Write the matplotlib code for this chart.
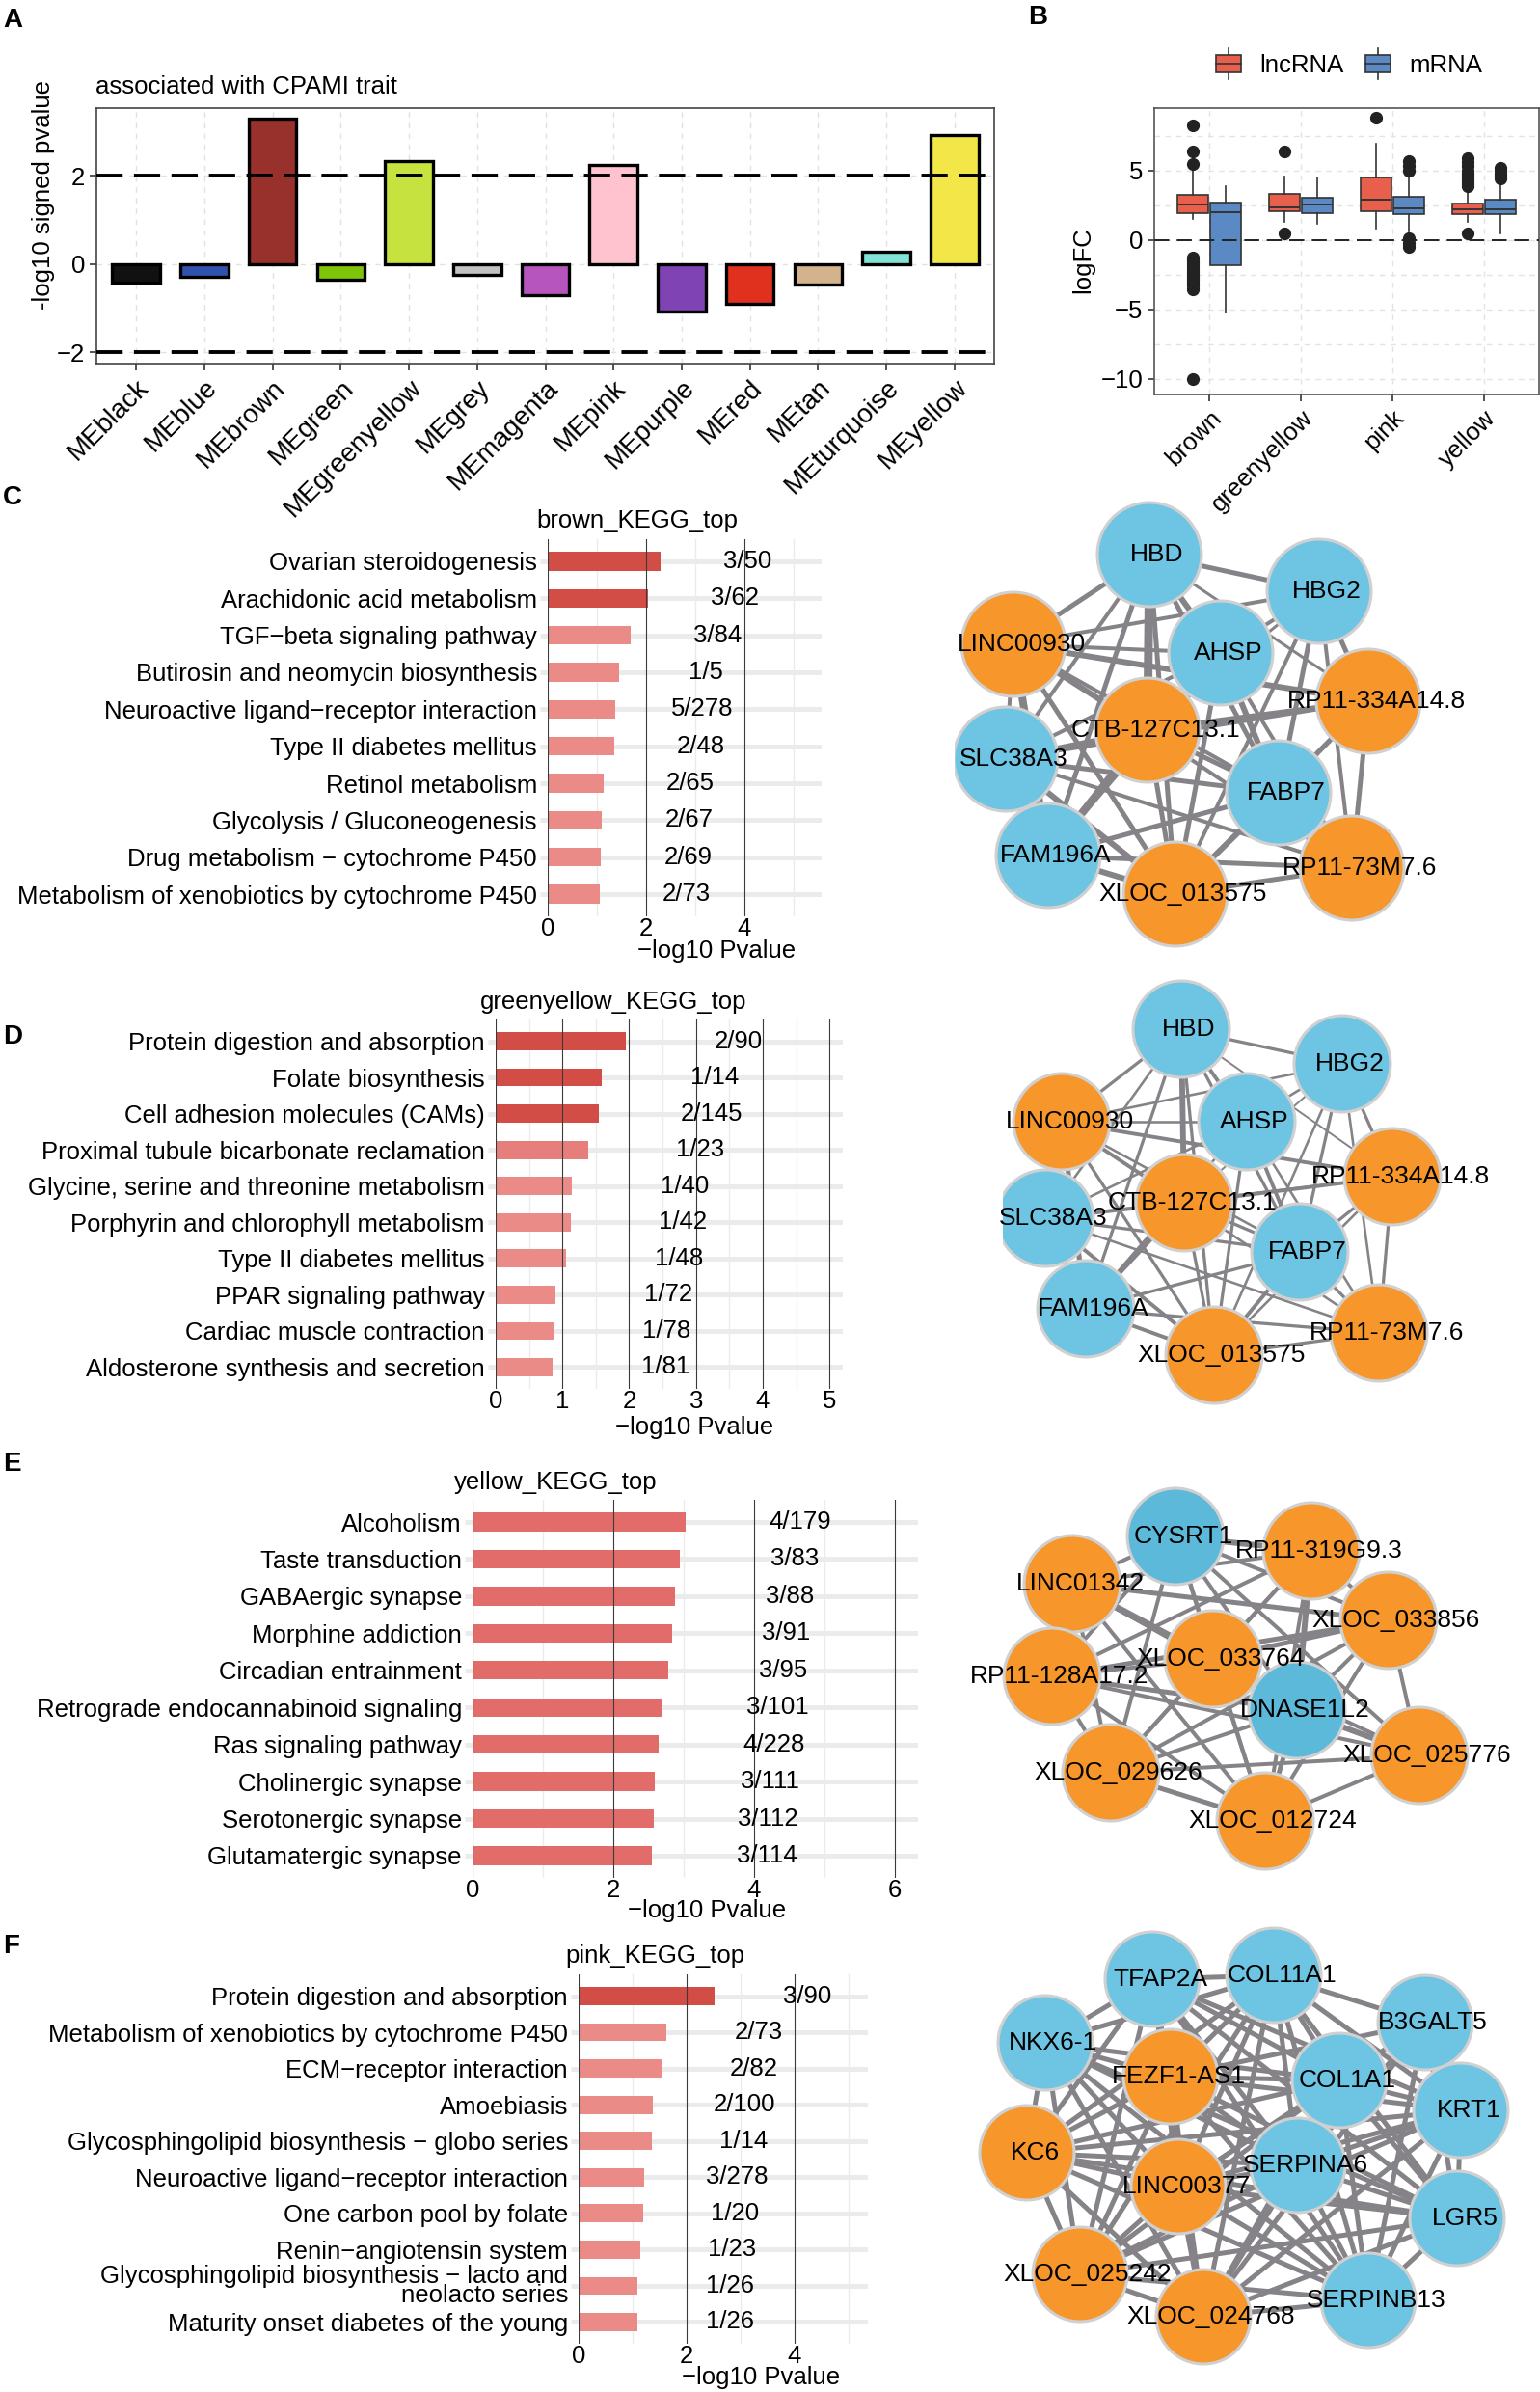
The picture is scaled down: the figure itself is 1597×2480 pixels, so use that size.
import numpy as np
import matplotlib
matplotlib.use("Agg")
import matplotlib.pyplot as plt
from matplotlib.patches import Circle, Rectangle, Patch
from matplotlib.lines import Line2D
from matplotlib.legend_handler import HandlerBase

plt.rcParams['font.family'] = ['Liberation Sans', 'DejaVu Sans']

W, H = 1597, 2480
PX = 100 / 72.0   # pixels per point at dpi 100
FS = 18.5

# ---------------- panel A: module-trait association ----------------
me_modules = ["MEblack", "MEblue", "MEbrown", "MEgreen", "MEgreenyellow", "MEgrey",
              "MEmagenta", "MEpink", "MEpurple", "MEred", "MEtan", "MEturquoise", "MEyellow"]
me_signed_p = [-0.43, -0.30, 3.29, -0.36, 2.32, -0.26, -0.71, 2.25, -1.08, -0.91, -0.46, 0.27, 2.92]
me_colors = ["#111111", "#3152AC", "#98302B", "#7EC50A", "#C6E23F", "#C2C2C2",
             "#B655BE", "#FFC2CF", "#8043B3", "#E0311F", "#D2B38C", "#83E1D6", "#F2E648"]

# ---------------- panel B: logFC boxplots ----------------
box_groups = ["brown", "greenyellow", "pink", "yellow"]
# whisker low, Q1, median, Q3, whisker high
lnc_stats = [[1.52, 1.89, 2.54, 3.21, 5.00],
             [1.29, 2.06, 2.33, 3.28, 4.57],
             [0.83, 2.06, 2.89, 4.46, 6.90],
             [1.29, 1.82, 2.17, 2.63, 3.60]]
mrna_stats = [[-5.22, -1.82, 2.01, 2.70, 3.90],
              [1.13, 1.92, 2.52, 3.03, 4.48],
              [0.60, 1.82, 2.24, 3.09, 4.64],
              [0.44, 1.87, 2.22, 2.89, 4.06]]
lnc_outliers = [[8.22, 6.37, 5.45, -1.3, -1.5, -1.7, -1.9, -2.1, -2.3, -2.5, -2.7,
                 -2.9, -3.1, -3.3, -3.55, -10.0],
                [6.37, 0.44],
                [8.78],
                [5.9, 5.6, 5.3, 5.0, 4.8, 4.6, 4.4, 4.2, 4.0, 3.85, 0.44]]
mrna_outliers = [[], [], [5.68, 5.35, 5.0, 0.14, -0.2, -0.5],
                 [5.2, 5.0, 4.8, 4.6, 4.4]]

# ---------------- panels C-F: KEGG enrichment ----------------
brown_terms = ["Ovarian steroidogenesis", "Arachidonic acid metabolism",
               "TGF\u2212beta signaling pathway", "Butirosin and neomycin biosynthesis",
               "Neuroactive ligand\u2212receptor interaction", "Type II diabetes mellitus",
               "Retinol metabolism", "Glycolysis / Gluconeogenesis",
               "Drug metabolism \u2212 cytochrome P450",
               "Metabolism of xenobiotics by cytochrome P450"]
brown_logp = [2.30, 2.04, 1.68, 1.45, 1.38, 1.35, 1.13, 1.10, 1.08, 1.05]
brown_ratio = ["3/50", "3/62", "3/84", "1/5", "5/278", "2/48", "2/65", "2/67", "2/69", "2/73"]

gy_terms = ["Protein digestion and absorption", "Folate biosynthesis",
            "Cell adhesion molecules (CAMs)", "Proximal tubule bicarbonate reclamation",
            "Glycine, serine and threonine metabolism", "Porphyrin and chlorophyll metabolism",
            "Type II diabetes mellitus", "PPAR signaling pathway",
            "Cardiac muscle contraction", "Aldosterone synthesis and secretion"]
gy_logp = [1.95, 1.59, 1.54, 1.38, 1.14, 1.12, 1.06, 0.89, 0.87, 0.85]
gy_ratio = ["2/90", "1/14", "2/145", "1/23", "1/40", "1/42", "1/48", "1/72", "1/78", "1/81"]

yellow_terms = ["Alcoholism", "Taste transduction", "GABAergic synapse", "Morphine addiction",
                "Circadian entrainment", "Retrograde endocannabinoid signaling",
                "Ras signaling pathway", "Cholinergic synapse", "Serotonergic synapse",
                "Glutamatergic synapse"]
yellow_logp = [3.03, 2.95, 2.88, 2.83, 2.78, 2.70, 2.65, 2.59, 2.57, 2.55]
yellow_ratio = ["4/179", "3/83", "3/88", "3/91", "3/95", "3/101", "4/228", "3/111", "3/112", "3/114"]

pink_terms = ["Protein digestion and absorption",
              "Metabolism of xenobiotics by cytochrome P450",
              "ECM\u2212receptor interaction", "Amoebiasis",
              "Glycosphingolipid biosynthesis \u2212 globo series",
              "Neuroactive ligand\u2212receptor interaction", "One carbon pool by folate",
              "Renin\u2212angiotensin system",
              "Glycosphingolipid biosynthesis \u2212 lacto and\nneolacto series",
              "Maturity onset diabetes of the young"]
pink_logp = [2.52, 1.63, 1.54, 1.37, 1.35, 1.22, 1.19, 1.14, 1.09, 1.09]
pink_ratio = ["3/90", "2/73", "2/82", "2/100", "1/14", "3/278", "1/20", "1/23", "1/26", "1/26"]

DARK, MID, LIGHT = "#D24D46", "#E16C69", "#EA8B88"
brown_cols = [DARK, DARK] + [LIGHT] * 8
gy_cols = [DARK, DARK, DARK, "#E67E7B"] + [LIGHT] * 6
yellow_cols = [MID] * 10
pink_cols = [DARK] + [LIGHT] * 9

# ---------------- networks (layout coordinates in px inside each panel box) ----------------
brown_nodes = ["HBD", "HBG2", "LINC00930", "AHSP", "RP11-334A14.8", "CTB-127C13.1",
               "SLC38A3", "FABP7", "FAM196A", "XLOC_013575", "RP11-73M7.6"]
brown_kind = ["m", "m", "l", "m", "l", "l", "m", "m", "m", "l", "l"]
brown_x = [202, 378, 61, 276, 429, 200, 53, 336, 97, 229, 412]
brown_y = [70, 108, 163, 172, 222, 252, 282, 317, 382, 422, 395]
gy_x = [185, 352, 61, 253, 404, 188, 44, 308, 86, 219, 390]
gy_y = [67, 103, 163, 163, 220, 247, 263, 298, 357, 405, 382]
brown_edges = [(0, 1), (0, 2), (0, 3), (0, 5), (0, 6), (0, 8), (0, 9), (0, 7), (0, 4),
               (1, 3), (1, 2), (1, 4), (1, 7), (1, 10), (1, 9), (1, 5),
               (2, 3), (2, 5), (2, 4), (2, 6), (2, 8), (2, 9), (2, 7),
               (3, 6), (3, 7), (3, 10), (3, 9), (3, 8),
               (4, 5), (4, 7), (4, 10), (4, 9), (4, 6),
               (5, 6), (5, 7), (5, 8), (5, 9), (5, 10),
               (6, 7), (6, 8), (6, 9), (6, 10),
               (7, 8), (7, 9), (7, 10), (8, 9), (8, 10), (9, 10)]
brown_w = [5, 5, 6, 9, 4, 5, 5, 5, 3,
           4, 4, 5, 5, 4, 4, 3,
           4, 6, 6, 4, 8, 5, 4,
           4, 6, 4, 5, 4,
           6, 5, 5, 4, 4,
           6, 5, 8, 5, 4,
           5, 4, 6, 4,
           5, 6, 5, 6, 5, 5]

yellow_nodes = ["CYSRT1", "RP11-319G9.3", "LINC01342", "XLOC_033856", "XLOC_033764",
                "RP11-128A17.2", "DNASE1L2", "XLOC_025776", "XLOC_029626", "XLOC_012724"]
yellow_kind = ["m", "l", "l", "l", "l", "l", "m", "l", "l", "l"]
yellow_x = [199, 340, 92, 420, 238, 71, 325, 452, 132, 292]
yellow_y = [73, 88, 122, 160, 200, 218, 253, 300, 318, 368]
yellow_edges = [(0, 1), (0, 2), (0, 3), (0, 4), (0, 5), (0, 6), (0, 7), (0, 8), (0, 9),
                (1, 2), (1, 3), (1, 4), (1, 5), (1, 6), (1, 8), (1, 9),
                (2, 3), (2, 4), (2, 5), (2, 6), (2, 8), (2, 9),
                (3, 4), (3, 5), (3, 6), (3, 7), (3, 8), (3, 9),
                (4, 5), (4, 6), (4, 7), (4, 8), (4, 9),
                (5, 6), (5, 7), (5, 8), (5, 9),
                (6, 7), (6, 8), (6, 9), (7, 8), (7, 9), (8, 9)]
yellow_w = [6, 4, 4, 4, 4, 4, 4, 4, 4,
            4, 4, 4, 4, 6, 4, 4,
            5, 7, 4, 4, 4, 4,
            5, 5, 4, 4, 4, 4,
            4, 4, 4, 4, 4,
            5, 4, 4, 4,
            6, 4, 5, 4, 4, 5]

pink_nodes = ["TFAP2A", "COL11A1", "B3GALT5", "NKX6-1", "FEZF1-AS1", "COL1A1", "KRT1",
              "KC6", "SERPINA6", "LINC00377", "LGR5", "XLOC_025242", "XLOC_024768", "SERPINB13"]
pink_kind = ["m", "m", "m", "m", "l", "m", "m", "l", "m", "l", "m", "l", "l", "m"]
pink_x = [205, 331, 488, 94, 224, 399, 525, 75, 356, 232, 521, 130, 258, 429]
pink_y = [62, 58, 107, 128, 163, 167, 198, 242, 255, 277, 310, 368, 412, 395]
pink_adj = {0: [1, 3, 4, 5, 6, 7, 8, 9, 10, 11, 12, 13],
            1: [2, 3, 4, 5, 6, 7, 8, 9, 10, 11, 12, 13],
            2: [4, 5, 6, 8, 9, 10, 12, 13],
            3: [4, 5, 7, 8, 9, 10, 11, 12, 13],
            4: [5, 6, 7, 8, 9, 10, 11, 12, 13],
            5: [6, 7, 8, 9, 10, 11, 12, 13],
            6: [7, 8, 9, 10, 11, 12, 13],
            7: [8, 9, 10, 11, 12, 13],
            8: [9, 10, 11, 12, 13],
            9: [10, 11, 12, 13],
            10: [11, 12, 13],
            11: [12, 13],
            12: [13]}
pink_edges = [(i, j) for i, js in pink_adj.items() for j in js]

fig = plt.figure(figsize=(W / 100, H / 100), dpi=100)
fig.patch.set_facecolor("white")


def add_ax(l, t, r, b):
    return fig.add_axes([l / W, 1 - b / H, (r - l) / W, (b - t) / H])


def ftext(x, y, s, **kw):
    fig.text(x / W, 1 - y / H, s, **kw)


# ================= A =================
axA = add_ax(100, 112, 1031, 377)
xa = np.arange(len(me_modules))
axA.bar(xa, me_signed_p, width=0.7, color=me_colors, edgecolor="black", linewidth=2.4, zorder=2)
for yv in (2, -2):
    axA.axhline(yv, color="black", lw=2.8, linestyle=(0, (7, 3)), zorder=4)
axA.set_xlim(-0.58, len(me_modules) - 0.42)
axA.set_ylim(-2.26, 3.53)
axA.set_yticks([-2, 0, 2])
axA.set_xticks(xa)
axA.set_xticklabels(me_modules, rotation=45, ha="right", va="top", rotation_mode="anchor")
axA.tick_params(labelsize=FS, color="#333333", length=5, width=1.2)
axA.tick_params(axis="x", labelsize=20)
axA.grid(True, color="#E2E2E2", linestyle=(0, (4, 4)), lw=1)
axA.set_axisbelow(True)
for s in axA.spines.values():
    s.set_color("#444444")
    s.set_linewidth(1.2)
axA.set_ylabel("-log10 signed pvalue", fontsize=FS)
axA.yaxis.set_label_coords(-43 / 931, 0.66)
ftext(99, 90, "associated with CPAMI trait", fontsize=FS, ha="left", va="center")

# ================= B =================
axB = add_ax(1197, 112, 1596, 409)
LNC_C, MRNA_C = "#E8604C", "#5B89C3"


def make_stats(st, fl):
    return [dict(whislo=s[0], q1=s[1], med=s[2], q3=s[3], whishi=s[4], fliers=f)
            for s, f in zip(st, fl)]


xb = np.arange(len(box_groups))
common = dict(widths=0.34, patch_artist=True, showcaps=False,
              medianprops=dict(color="#333333", lw=1.4),
              whiskerprops=dict(color="#333333", lw=1.2),
              flierprops=dict(marker="o", markerfacecolor="#222222", markeredgecolor="#222222",
                              markersize=8.5), manage_ticks=False, zorder=3)
axB.bxp(make_stats(lnc_stats, lnc_outliers), positions=xb - 0.18,
        boxprops=dict(facecolor=LNC_C, edgecolor="#333333", lw=1.2), **common)
axB.bxp(make_stats(mrna_stats, mrna_outliers), positions=xb + 0.18,
        boxprops=dict(facecolor=MRNA_C, edgecolor="#333333", lw=1.2), **common)
axB.axhline(0, color="#222222", lw=1.4, linestyle=(0, (8, 4)), zorder=5)
axB.set_xlim(-0.6, 3.6)
axB.set_ylim(-11.13, 9.49)
axB.set_yticks([-10, -5, 0, 5])
axB.set_yticks([-7.5, -2.5, 2.5, 7.5], minor=True)
axB.set_xticks(xb)
axB.set_xticklabels(box_groups, rotation=45, ha="right", va="top", rotation_mode="anchor")
axB.tick_params(labelsize=FS, color="#333333", length=5, width=1.2)
axB.tick_params(which="minor", length=0)
axB.grid(True, which="both", color="#E3E3E3", linestyle=(0, (4, 4)), lw=1)
axB.set_axisbelow(True)
for s in axB.spines.values():
    s.set_color("#555555")
    s.set_linewidth(1.2)
axB.set_ylabel("logFC", fontsize=FS)
axB.yaxis.set_label_coords(-62 / 399, 0.47)


class BoxKey(HandlerBase):
    def create_artists(self, legend, orig_handle, xdescent, ydescent, width, height, fontsize, trans):
        x0, y0 = -xdescent, -ydescent
        cx = x0 + width / 2
        wl = Line2D([cx, cx], [y0 - height * 0.4, y0 + height * 1.4], color="#333333", lw=1.2, transform=trans)
        r = Rectangle((x0, y0), width, height, facecolor=orig_handle.get_facecolor(),
                      edgecolor="#333333", lw=1.2, transform=trans)
        m = Line2D([x0, x0 + width], [y0 + height / 2] * 2, color="#333333", lw=1.2, transform=trans)
        return [wl, r, m]


hl = [Patch(facecolor=LNC_C), Patch(facecolor=MRNA_C)]
fig.legend(hl, ["lncRNA", "mRNA"], handler_map={Patch: BoxKey()}, loc="center left",
           bbox_to_anchor=(1261 / W, 1 - 68 / H), ncol=2, frameon=False, fontsize=FS,
           handlelength=1.0, handleheight=0.7, handletextpad=0.75, columnspacing=0.9,
           borderpad=0, borderaxespad=0)


# ================= C-F bar panels =================
def kegg_panel(box, terms, values, ratios, colors, xmax, major, minor, offset,
               title, title_xy, xlab_xy):
    l, t, r, b = box
    ax = add_ax(l, t, r, b)
    y = np.arange(len(terms))
    ax.barh(y, values, height=0.5, color=colors, zorder=2)
    ax.set_xlim(0, xmax)
    ax.set_ylim(len(terms) - 0.4, -0.6)
    ax.set_yticks(y)
    ax.set_yticklabels(terms, fontsize=FS)
    for lab in ax.get_yticklabels():
        lab.set_linespacing(0.78)
    ax.set_xticks(major)
    ax.set_xticks(minor, minor=True)
    ax.tick_params(axis="x", which="both", length=0, labelsize=FS, pad=1)
    ax.tick_params(axis="y", length=6, width=3.6, color="#EBEBEB", pad=2)
    ax.grid(axis="y", color="#EBEBEB", lw=3.6)
    ax.grid(axis="x", which="minor", color="#EBEBEB", lw=1.0)
    ax.set_axisbelow(True)
    for tk in major:
        ax.axvline(tk, color="#3A3A3A", lw=0.8, zorder=3)
    for v, txt, yy in zip(values, ratios, y):
        ax.text(v + offset, yy, txt, ha="center", va="center", fontsize=FS, zorder=4)
    for s in ax.spines.values():
        s.set_visible(False)
    ax.patch.set_alpha(0)
    ftext(title_xy[0], title_xy[1], title, fontsize=FS, ha="center", va="center")
    ftext(xlab_xy[0], xlab_xy[1], "\u2212log10 Pvalue", fontsize=FS, ha="center", va="center")
    return ax


kegg_panel((568, 559, 852, 950), brown_terms, brown_logp, brown_ratio, brown_cols, 5.57,
           [0, 2, 4], [1, 3, 5], 1.77, "brown_KEGG_top", (661, 540), (743, 986))
kegg_panel((514, 1057, 874, 1440), gy_terms, gy_logp, gy_ratio, gy_cols, 5.2,
           [0, 1, 2, 3, 4, 5], [0.5, 1.5, 2.5, 3.5, 4.5], 1.69, "greenyellow_KEGG_top",
           (636, 1039), (720, 1480))
kegg_panel((490, 1555, 952, 1947), yellow_terms, yellow_logp, yellow_ratio, yellow_cols, 6.33,
           [0, 2, 4, 6], [1, 3, 5], 1.63, "yellow_KEGG_top", (576, 1537), (733, 1981))
kegg_panel((600, 2047, 900, 2430), pink_terms, pink_logp, pink_ratio, pink_cols, 5.36,
           [0, 2, 4], [1, 3, 5], 1.71, "pink_KEGG_top", (679, 2028), (789, 2465))


# ================= networks =================
ORANGE = "#F7962B"
EDGE = "#858387"


def draw_network(box, names, xs, ys, kinds, edges, widths, radius, blue, wscale=1.0):
    l, t, r, b = box
    ax = add_ax(l, t, r, b)
    ax.set_xlim(0, r - l)
    ax.set_ylim(b - t, 0)
    ax.axis("off")
    for (i, j), w in zip(edges, widths):
        ax.plot([xs[i], xs[j]], [ys[i], ys[j]], color=EDGE, lw=w * wscale / PX,
                solid_capstyle="butt", zorder=1)
    for x, y, k, nm in zip(xs, ys, kinds, names):
        ax.add_patch(Circle((x, y), radius, facecolor=blue if k == "m" else ORANGE,
                            edgecolor="#D0D0D0", lw=2.2, zorder=2))
        ax.text(x + 8, y, nm, ha="center", va="center", fontsize=19, zorder=3)


draw_network((990, 505, 1520, 995), brown_nodes, brown_x, brown_y, brown_kind,
             brown_edges, brown_w, 54, "#6DC5E3")
draw_network((1040, 1000, 1530, 1470), brown_nodes, gy_x, gy_y, brown_kind,
             brown_edges, brown_w, 50, "#6DC5E3", wscale=0.65)
draw_network((1020, 1520, 1560, 1960), yellow_nodes, yellow_x, yellow_y, yellow_kind,
             yellow_edges, yellow_w, 50, "#5DB9D9")
draw_network((990, 1990, 1597, 2480), pink_nodes, pink_x, pink_y, pink_kind,
             pink_edges, [5] * len(pink_edges), 49, "#6DC5E3")

# panel letters
for lab, x, y in [("A", 3, 8), ("B", 1066, 5), ("C", 3, 503), ("D", 3, 1062),
                  ("E", 3, 1505), ("F", 3, 2005)]:
    ftext(x, y, lab, fontsize=20, fontweight="bold", ha="left", va="top")

fig.savefig("out.png", dpi=100, facecolor="white")
